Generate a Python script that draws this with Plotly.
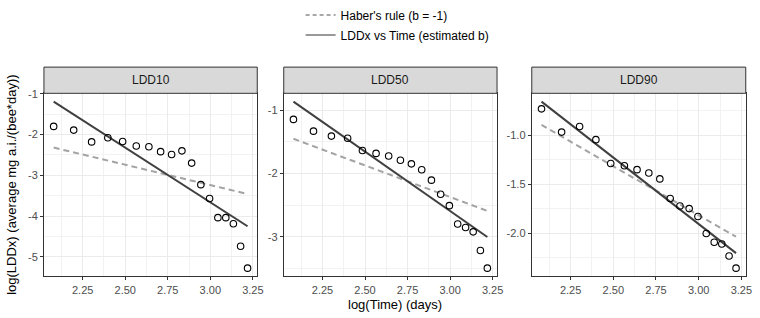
import numpy as np
import plotly.graph_objects as go

# ---------------- data ----------------
days = [8, 9, 10, 11, 12, 13, 14, 15, 16, 17, 18, 19, 20, 21, 22, 23, 24, 25]
panels = ["LDD10", "LDD50", "LDD90"]
ldd10 = [-1.80, -1.89, -2.18, -2.08, -2.17, -2.28, -2.30, -2.42, -2.49, -2.40,
         -2.70, -3.23, -3.57, -4.04, -4.04, -4.19, -4.74, -5.28]
ldd50 = [-1.144, -1.330, -1.408, -1.443, -1.636, -1.682, -1.722, -1.791, -1.847, -1.940,
         -2.105, -2.327, -2.508, -2.798, -2.854, -2.922, -3.217, -3.496]
ldd90 = [-0.730, -0.967, -0.910, -1.044, -1.287, -1.310, -1.350, -1.384, -1.444, -1.644,
         -1.720, -1.747, -1.827, -2.000, -2.090, -2.107, -2.230, -2.354]
x_ticks = [2.25, 2.50, 2.75, 3.00, 3.25]
x_ticktext = ["2.25", "2.50", "2.75", "3.00", "3.25"]
y_ticks = [[-1, -2, -3, -4, -5], [-1, -2, -3], [-1.0, -1.5, -2.0]]
y_ticktext = [["-1", "-2", "-3", "-4", "-5"], ["-1", "-2", "-3"], ["-1.0", "-1.5", "-2.0"]]
y_minor = [0.5, 0.5, 0.25]
legend_names = ["Haber's rule (b = -1)", "LDDx vs Time (estimated b)"]

# ---------------- layout geometry (pixels) ----------------
W, H = 760, 318
panel_x = [(44.3, 259.3), (286.0, 501.0), (536.0, 751.7)]
plot_top, plot_bot = 89.0, 275.7
strip_top = 62.3

def px(v):
    return v / W

def py(v):
    return 1 - v / H

FONT = "Liberation Sans, Arial, Helvetica, sans-serif"
DARK = "#333333"
GRID = "#EBEBEB"

x = np.log(np.array(days, dtype=float))
xmin, xmax = x.min(), x.max()
xpad = (xmax - xmin) * 0.05
xr = [xmin - xpad, xmax + xpad]

fig = go.Figure()
series = [ldd10, ldd50, ldd90]
shapes = []
annotations = []

for i, (name, yv) in enumerate(zip(panels, series)):
    yv = np.array(yv)
    n = i + 1
    xa = "x" if n == 1 else f"x{n}"
    ya = "y" if n == 1 else f"y{n}"
    mx, my = x.mean(), yv.mean()
    # OLS fit
    b, a = np.polyfit(x, yv, 1)
    xl = np.array([xmin, xmax])
    y_fit = a + b * xl
    y_haber = my - (xl - mx)

    fig.add_trace(go.Scatter(x=xl, y=y_haber, mode="lines", xaxis=xa, yaxis=ya,
                             line=dict(color="#A3A3A3", width=2, dash="6px,4px"),
                             showlegend=False, hoverinfo="skip"))
    fig.add_trace(go.Scatter(x=xl, y=y_fit, mode="lines", xaxis=xa, yaxis=ya,
                             line=dict(color="#404040", width=2),
                             showlegend=False, hoverinfo="skip"))
    fig.add_trace(go.Scatter(x=x, y=yv, mode="markers", xaxis=xa, yaxis=ya,
                             marker=dict(symbol="circle-open", size=6.5,
                                         color="black", line=dict(width=1.1, color="black")),
                             showlegend=False, name=name))

    allv = np.concatenate([yv, y_fit, y_haber])
    lo, hi = allv.min(), allv.max()
    pad = (hi - lo) * 0.05
    yr = [lo - pad, hi + pad]

    x0, x1 = panel_x[i]
    axis_common = dict(
        showline=True, mirror=True, linecolor=DARK, linewidth=1,
        ticks="outside", ticklen=3, tickwidth=1, tickcolor=DARK,
        tickfont=dict(family=FONT, size=11, color="#4D4D4D"),
        showgrid=True, gridcolor=GRID, gridwidth=1, zeroline=False,
    )
    fig.layout[f"xaxis{'' if n == 1 else n}"] = dict(
        axis_common, domain=[px(x0), px(x1)], anchor=ya, range=xr,
        tickvals=x_ticks, ticktext=x_ticktext,
        minor=dict(dtick=0.125, tick0=0, showgrid=True, gridcolor="#F2F2F2", gridwidth=0.6, ticks=""),
    )
    fig.layout[f"yaxis{'' if n == 1 else n}"] = dict(
        axis_common, domain=[py(plot_bot), py(plot_top)], anchor=xa, range=yr,
        tickvals=y_ticks[i], ticktext=y_ticktext[i],
        minor=dict(dtick=y_minor[i], tick0=0, showgrid=True, gridcolor="#F2F2F2", gridwidth=0.6, ticks=""),
    )
    # strip
    shapes.append(dict(type="rect", xref="paper", yref="paper",
                       x0=px(x0), x1=px(x1), y0=py(plot_top), y1=py(strip_top),
                       fillcolor="#D9D9D9", line=dict(color=DARK, width=1), layer="above"))
    annotations.append(dict(text=name, xref="paper", yref="paper",
                            x=px((x0 + x1) / 2), y=py((strip_top + plot_top) / 2),
                            xanchor="center", yanchor="middle", showarrow=False,
                            font=dict(family=FONT, size=12, color="#1A1A1A")))

# legend-only traces
fig.add_trace(go.Scatter(x=[None], y=[None], mode="lines", name=legend_names[0],
                         line=dict(color="#A8A8A8", width=2, dash="4px,3px"),
                         legendgroup="a"))
fig.add_trace(go.Scatter(x=[None], y=[None], mode="lines", name=legend_names[1],
                         line=dict(color="#999999", width=2), legendgroup="b"))

annotations.append(dict(text="log(Time) (days)", xref="paper", yref="paper",
                        x=px((panel_x[0][0] + panel_x[2][1]) / 2), y=py(304),
                        xanchor="center", yanchor="middle", showarrow=False,
                        font=dict(family=FONT, size=13, color="black")))
annotations.append(dict(text="log(LDDx) (average mg a.i./(bee*day))", xref="paper", yref="paper",
                        x=px(12), y=py((plot_top + plot_bot) / 2), textangle=-90,
                        xanchor="center", yanchor="middle", showarrow=False,
                        font=dict(family=FONT, size=13, color="black")))

fig.update_layout(
    width=W, height=H,
    margin=dict(l=0, r=0, t=0, b=0),
    paper_bgcolor="white", plot_bgcolor="white",
    font=dict(family=FONT, size=12, color="black"),
    shapes=shapes, annotations=annotations,
    showlegend=True,
    legend=dict(x=px(303), y=py(-5.5), xanchor="left", yanchor="top",
                bgcolor="rgba(0,0,0,0)", traceorder="grouped", tracegroupgap=1,
                font=dict(family=FONT, size=12, color="black")),
)

fig.write_html(
    "out.html",
    config={"displayModeBar": False},
    post_script="document.body.style.margin='0';document.body.style.padding='0';"
                "document.documentElement.style.overflow='hidden';",
)
